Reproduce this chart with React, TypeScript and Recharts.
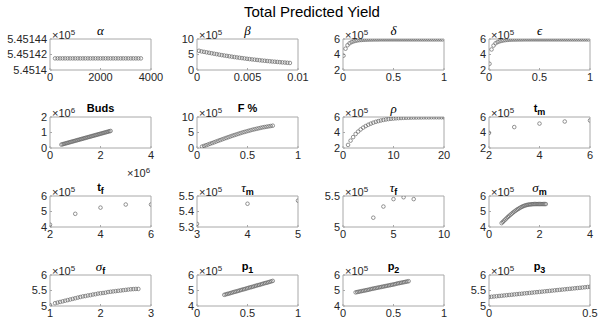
import React from "react";
import { ScatterChart, Scatter, XAxis, YAxis, ReferenceArea } from "recharts";

// values in units shown on the axes (×10^5 unless noted)
const alphaX = [200, 300, 400, 500, 600, 700, 800, 900, 1000, 1100, 1200, 1300, 1400, 1500, 1600, 1700, 1800, 1900, 2000, 2100, 2200, 2300, 2400, 2500, 2600, 2700, 2800, 2900, 3000, 3100, 3200, 3300, 3400, 3500, 3600];
const alphaY = [5.451415, 5.451415, 5.451415, 5.451415, 5.451415, 5.451415, 5.451415, 5.451415, 5.451415, 5.451415, 5.451415, 5.451415, 5.451415, 5.451415, 5.451415, 5.451415, 5.451415, 5.451415, 5.451415, 5.451415, 5.451415, 5.451415, 5.451415, 5.451415, 5.451415, 5.451415, 5.451415, 5.451415, 5.451415, 5.451415, 5.451415, 5.451415, 5.451415, 5.451415, 5.451415];

const betaX = [0.0002, 0.00045, 0.0007, 0.00095, 0.0012, 0.00145, 0.0017, 0.00195, 0.0022, 0.00245, 0.0027, 0.00295, 0.0032, 0.00345, 0.0037, 0.00395, 0.0042, 0.00445, 0.0047, 0.00495, 0.0052, 0.00545, 0.0057, 0.00595, 0.0062, 0.00645, 0.0067, 0.00695, 0.0072, 0.00745, 0.0077, 0.00795, 0.0082, 0.00845, 0.0087, 0.00895, 0.0092];
const betaY = [6.2, 6.0, 5.85, 5.7, 5.55, 5.4, 5.25, 5.1, 4.95, 4.8, 4.68, 4.55, 4.42, 4.3, 4.18, 4.06, 3.95, 3.84, 3.73, 3.62, 3.52, 3.42, 3.33, 3.24, 3.15, 3.06, 2.98, 2.9, 2.82, 2.74, 2.67, 2.6, 2.53, 2.46, 2.4, 2.33, 2.27];

const deltaX = [0.005, 0.025, 0.045, 0.065, 0.085, 0.105, 0.125, 0.145, 0.165, 0.185, 0.205, 0.225, 0.245, 0.265, 0.285, 0.305, 0.325, 0.345, 0.365, 0.385, 0.405, 0.425, 0.445, 0.465, 0.485, 0.505, 0.525, 0.545, 0.565, 0.585, 0.605, 0.625, 0.645, 0.665, 0.685, 0.705, 0.725, 0.745, 0.765, 0.785, 0.805, 0.825, 0.845, 0.865, 0.885, 0.905, 0.925, 0.945, 0.965, 0.985];
const deltaY = [3.85, 4.75, 5.2, 5.45, 5.6, 5.7, 5.77, 5.82, 5.86, 5.88, 5.9, 5.91, 5.92, 5.93, 5.93, 5.94, 5.94, 5.94, 5.95, 5.95, 5.95, 5.95, 5.95, 5.95, 5.95, 5.95, 5.95, 5.95, 5.95, 5.95, 5.95, 5.95, 5.95, 5.95, 5.95, 5.95, 5.95, 5.95, 5.95, 5.95, 5.95, 5.95, 5.95, 5.95, 5.95, 5.95, 5.95, 5.95, 5.95, 5.95];

const epsX = [0.005, 0.025, 0.045, 0.065, 0.085, 0.105, 0.125, 0.145, 0.165, 0.185, 0.205, 0.225, 0.245, 0.265, 0.285, 0.305, 0.325, 0.345, 0.365, 0.385, 0.405, 0.425, 0.445, 0.465, 0.485, 0.505, 0.525, 0.545, 0.565, 0.585, 0.605, 0.625, 0.645, 0.665, 0.685, 0.705, 0.725, 0.745, 0.765, 0.785, 0.805, 0.825, 0.845, 0.865, 0.885, 0.905, 0.925, 0.945, 0.965, 0.985];
const epsY = [2.8, 4.65, 5.15, 5.45, 5.6, 5.7, 5.77, 5.82, 5.86, 5.89, 5.91, 5.92, 5.93, 5.93, 5.94, 5.94, 5.94, 5.95, 5.95, 5.95, 5.95, 5.95, 5.95, 5.95, 5.95, 5.95, 5.95, 5.95, 5.95, 5.95, 5.95, 5.95, 5.95, 5.95, 5.95, 5.95, 5.95, 5.95, 5.95, 5.95, 5.95, 5.95, 5.95, 5.95, 5.95, 5.95, 5.95, 5.95, 5.95, 5.95];

// Buds: both axes ×10^6
const budsX = [0.45, 0.5, 0.55, 0.6, 0.65, 0.7, 0.75, 0.8, 0.85, 0.9, 0.95, 1.0, 1.05, 1.1, 1.15, 1.2, 1.25, 1.3, 1.35, 1.4, 1.45, 1.5, 1.55, 1.6, 1.65, 1.7, 1.75, 1.8, 1.85, 1.9, 1.95, 2.0, 2.05, 2.1, 2.15, 2.2, 2.25, 2.3, 2.35, 2.4];
const budsY = [0.22, 0.243, 0.265, 0.288, 0.31, 0.333, 0.355, 0.378, 0.401, 0.423, 0.446, 0.468, 0.491, 0.514, 0.536, 0.559, 0.581, 0.604, 0.627, 0.649, 0.672, 0.694, 0.717, 0.739, 0.762, 0.785, 0.807, 0.83, 0.852, 0.875, 0.897, 0.92, 0.943, 0.965, 0.988, 1.01, 1.033, 1.055, 1.078, 1.1];

const fPctX = [0.05, 0.07, 0.09, 0.11, 0.13, 0.15, 0.17, 0.19, 0.21, 0.23, 0.25, 0.27, 0.29, 0.31, 0.33, 0.35, 0.37, 0.39, 0.41, 0.43, 0.45, 0.47, 0.49, 0.51, 0.53, 0.55, 0.57, 0.59, 0.61, 0.63, 0.65, 0.67, 0.69, 0.71, 0.73, 0.75];
const fPctY = [0.45, 0.68, 0.9, 1.13, 1.37, 1.6, 1.84, 2.08, 2.32, 2.56, 2.8, 3.03, 3.26, 3.49, 3.72, 3.95, 4.16, 4.37, 4.58, 4.79, 5.0, 5.18, 5.36, 5.54, 5.72, 5.9, 6.05, 6.2, 6.35, 6.5, 6.65, 6.76, 6.87, 6.98, 7.09, 7.2];

const rhoX = [1, 1.5, 2, 2.5, 3, 3.5, 4, 4.5, 5, 5.5, 6, 6.5, 7, 7.5, 8, 8.5, 9, 9.5, 10, 10.5, 11, 11.5, 12, 12.5, 13, 13.5, 14, 14.5, 15, 15.5, 16, 16.5, 17, 17.5, 18, 18.5, 19, 19.5, 20];
const rhoY = [2.4, 2.95, 3.4, 3.8, 4.12, 4.4, 4.63, 4.83, 5.0, 5.14, 5.27, 5.38, 5.47, 5.55, 5.62, 5.68, 5.73, 5.77, 5.8, 5.83, 5.85, 5.87, 5.89, 5.9, 5.91, 5.92, 5.93, 5.93, 5.94, 5.94, 5.95, 5.95, 5.95, 5.96, 5.96, 5.96, 5.96, 5.96, 5.96];

const tmX = [2, 3, 4, 5, 6];
const tmY = [3.95, 4.7, 5.15, 5.42, 5.55];

const tfX = [2, 3, 4, 5, 6];
const tfY = [4.15, 4.85, 5.25, 5.45, 5.45];

const tauMX = [3, 4, 5];
const tauMY = [5.32, 5.45, 5.47];

const tauFX = [3, 4, 5, 6, 7];
const tauFY = [5.15, 5.33, 5.45, 5.48, 5.45];

const sigMX = [0.5, 0.55, 0.6, 0.65, 0.7, 0.75, 0.8, 0.85, 0.9, 0.95, 1.0, 1.05, 1.1, 1.15, 1.2, 1.25, 1.3, 1.35, 1.4, 1.45, 1.5, 1.55, 1.6, 1.65, 1.7, 1.75, 1.8, 1.85, 1.9, 1.95, 2.0, 2.05, 2.1, 2.15, 2.2, 2.25];
const sigMY = [4.25, 4.33, 4.41, 4.49, 4.57, 4.65, 4.72, 4.79, 4.86, 4.93, 4.99, 5.05, 5.11, 5.16, 5.21, 5.26, 5.3, 5.34, 5.37, 5.4, 5.42, 5.44, 5.45, 5.46, 5.47, 5.475, 5.48, 5.48, 5.48, 5.48, 5.48, 5.48, 5.48, 5.48, 5.48, 5.48];

const sigFX = [1.0, 1.1, 1.15, 1.2, 1.25, 1.3, 1.35, 1.4, 1.45, 1.5, 1.55, 1.6, 1.65, 1.7, 1.75, 1.8, 1.85, 1.9, 1.95, 2.0, 2.05, 2.1, 2.15, 2.2, 2.25, 2.3, 2.35, 2.4, 2.45, 2.5, 2.55, 2.6, 2.65, 2.7, 2.75];
const sigFY = [5.03, 5.09, 5.11, 5.13, 5.15, 5.17, 5.19, 5.21, 5.23, 5.25, 5.27, 5.29, 5.31, 5.32, 5.34, 5.35, 5.37, 5.38, 5.4, 5.41, 5.42, 5.43, 5.45, 5.46, 5.47, 5.48, 5.49, 5.5, 5.51, 5.52, 5.53, 5.54, 5.545, 5.55, 5.55];

const p1X = [0.27, 0.285, 0.3, 0.315, 0.33, 0.345, 0.36, 0.375, 0.39, 0.405, 0.42, 0.435, 0.45, 0.465, 0.48, 0.495, 0.51, 0.525, 0.54, 0.555, 0.57, 0.585, 0.6, 0.615, 0.63, 0.645, 0.66, 0.675, 0.69, 0.705, 0.72, 0.735, 0.75];
const p1Y = [4.72, 4.75, 4.78, 4.8, 4.83, 4.86, 4.89, 4.92, 4.94, 4.97, 5.0, 5.03, 5.06, 5.08, 5.11, 5.14, 5.17, 5.2, 5.22, 5.25, 5.28, 5.31, 5.34, 5.36, 5.39, 5.42, 5.45, 5.48, 5.5, 5.53, 5.56, 5.59, 5.62];

const p2X = [0.125, 0.14, 0.155, 0.17, 0.185, 0.2, 0.215, 0.23, 0.245, 0.26, 0.275, 0.29, 0.305, 0.32, 0.335, 0.35, 0.365, 0.38, 0.395, 0.41, 0.425, 0.44, 0.455, 0.47, 0.485, 0.5, 0.515, 0.53, 0.545, 0.56, 0.575, 0.59, 0.605, 0.62, 0.635, 0.65];
const p2Y = [4.88, 4.9, 4.92, 4.94, 4.96, 4.98, 5.0, 5.02, 5.04, 5.06, 5.09, 5.11, 5.13, 5.15, 5.17, 5.19, 5.21, 5.23, 5.25, 5.27, 5.29, 5.31, 5.33, 5.35, 5.37, 5.39, 5.41, 5.44, 5.46, 5.48, 5.5, 5.52, 5.54, 5.56, 5.58, 5.6];

const p3X = [0, 0.0125, 0.025, 0.0375, 0.05, 0.0625, 0.075, 0.0875, 0.1, 0.1125, 0.125, 0.1375, 0.15, 0.1625, 0.175, 0.1875, 0.2, 0.2125, 0.225, 0.2375, 0.25, 0.2625, 0.275, 0.2875, 0.3, 0.3125, 0.325, 0.3375, 0.35, 0.3625, 0.375, 0.3875, 0.4, 0.4125, 0.425, 0.4375, 0.45, 0.4625, 0.475, 0.4875, 0.5];
const p3Y = [5.29, 5.298, 5.307, 5.315, 5.323, 5.331, 5.34, 5.348, 5.356, 5.364, 5.373, 5.381, 5.389, 5.397, 5.406, 5.414, 5.422, 5.43, 5.439, 5.447, 5.455, 5.463, 5.472, 5.48, 5.488, 5.496, 5.505, 5.513, 5.521, 5.529, 5.538, 5.546, 5.554, 5.562, 5.571, 5.579, 5.587, 5.595, 5.604, 5.612, 5.62];

const COL_LEFT = [50, 197, 343, 489];
const ROW_TOP = [39, 117, 196, 275];
const BOX_W = 101;
const BOX_H = 31;
const AXIS_W = 50;
const PAD_T = 9;
const PAD_R = 18;
const X_H = 18;
const BOX = "#a8a8a8";
const INK = "#262626";
const SANS = "'Liberation Sans', Arial, Helvetica, sans-serif";
const SERIF = "'Liberation Serif', 'DejaVu Serif', serif";

const greek = (ch: string, sub?: string) => (
  <span>
    <span style={{ fontFamily: SERIF, fontStyle: "italic", fontWeight: "normal", fontSize: 13 }}>{ch}</span>
    {sub && <sub style={{ fontWeight: "bold", fontSize: 9, verticalAlign: -3 }}>{sub}</sub>}
  </span>
);
const bold = (t: string, sub?: string) => (
  <span style={{ fontWeight: "bold" }}>
    {t}
    {sub && <sub style={{ fontSize: 9, verticalAlign: -3 }}>{sub}</sub>}
  </span>
);

type Panel = {
  xs: number[];
  ys: number[];
  xd: [number, number];
  yd: [number, number];
  xt: number[];
  yt: number[];
  title: React.ReactNode;
  yExp: string;
  xExp?: string;
};

const panels: Panel[] = [
  { xs: alphaX, ys: alphaY, xd: [0, 4000], yd: [5.4514, 5.45144], xt: [0, 2000, 4000], yt: [5.4514, 5.45142, 5.45144], title: greek("α"), yExp: "5" },
  { xs: betaX, ys: betaY, xd: [0, 0.01], yd: [0, 10], xt: [0, 0.005, 0.01], yt: [0, 5, 10], title: greek("β"), yExp: "5" },
  { xs: deltaX, ys: deltaY, xd: [0, 1], yd: [2, 6], xt: [0, 0.5, 1], yt: [2, 4, 6], title: greek("δ"), yExp: "5" },
  { xs: epsX, ys: epsY, xd: [0, 1], yd: [2, 6], xt: [0, 0.5, 1], yt: [2, 4, 6], title: greek("ϵ"), yExp: "5" },
  { xs: budsX, ys: budsY, xd: [0, 4], yd: [0, 2], xt: [0, 2, 4], yt: [0, 1, 2], title: bold("Buds"), yExp: "6", xExp: "6" },
  { xs: fPctX, ys: fPctY, xd: [0, 1], yd: [0, 10], xt: [0, 0.5, 1], yt: [0, 5, 10], title: bold("F %"), yExp: "5" },
  { xs: rhoX, ys: rhoY, xd: [0, 20], yd: [2, 6], xt: [0, 10, 20], yt: [2, 4, 6], title: greek("ρ"), yExp: "5" },
  { xs: tmX, ys: tmY, xd: [2, 6], yd: [2, 6], xt: [2, 4, 6], yt: [2, 4, 6], title: bold("t", "m"), yExp: "5" },
  { xs: tfX, ys: tfY, xd: [2, 6], yd: [4, 6], xt: [2, 4, 6], yt: [4, 5, 6], title: bold("t", "f"), yExp: "5" },
  { xs: tauMX, ys: tauMY, xd: [3, 5], yd: [5.3, 5.5], xt: [3, 4, 5], yt: [5.3, 5.4, 5.5], title: greek("τ", "m"), yExp: "5" },
  { xs: tauFX, ys: tauFY, xd: [0, 10], yd: [5, 5.5], xt: [0, 5, 10], yt: [5, 5.5], title: greek("τ", "f"), yExp: "5" },
  { xs: sigMX, ys: sigMY, xd: [0, 4], yd: [4, 6], xt: [0, 2, 4], yt: [4, 5, 6], title: greek("σ", "m"), yExp: "5" },
  { xs: sigFX, ys: sigFY, xd: [1, 3], yd: [5, 6], xt: [1, 2, 3], yt: [5, 5.5, 6], title: greek("σ", "f"), yExp: "5" },
  { xs: p1X, ys: p1Y, xd: [0, 1], yd: [4, 6], xt: [0, 0.5, 1], yt: [4, 5, 6], title: bold("p", "1"), yExp: "5" },
  { xs: p2X, ys: p2Y, xd: [0, 1], yd: [4, 6], xt: [0, 0.5, 1], yt: [4, 5, 6], title: bold("p", "2"), yExp: "5" },
  { xs: p3X, ys: p3Y, xd: [0, 0.5], yd: [5, 6], xt: [0, 0.5], yt: [5, 5.5, 6], title: bold("p", "3"), yExp: "5" },
];

const fmt = (v: number) => String(Number(v.toFixed(6)));

const Ring = (props: any) => (
  <circle cx={props.cx} cy={props.cy} r={1.8} fill="none" stroke="#666" strokeWidth={0.7} />
);

const Exp = ({ n }: { n: string }) => (
  <span>
    ×10<sup style={{ fontSize: 8, verticalAlign: 4 }}>{n}</sup>
  </span>
);

function SmallPlot({ p, left, top }: { p: Panel; left: number; top: number }) {
  const data = p.xs.map((x, i) => ({ x, y: p.ys[i] }));
  const tick = { fontSize: 11, fill: INK };
  return (
    <>
      <div style={{ position: "absolute", left: left - AXIS_W, top: top - PAD_T }}>
        <ScatterChart
          width={AXIS_W + BOX_W + PAD_R}
          height={PAD_T + BOX_H + X_H}
          margin={{ top: PAD_T, right: PAD_R, bottom: 0, left: 0 }}
        >
          <XAxis
            type="number"
            dataKey="x"
            domain={p.xd}
            ticks={p.xt}
            interval={0}
            height={X_H}
            axisLine={false}
            tickLine={{ stroke: BOX }}
            tickSize={-2}
            tickMargin={5}
            tick={tick}
            tickFormatter={fmt}
            allowDataOverflow
          />
          <YAxis
            type="number"
            dataKey="y"
            domain={p.yd}
            ticks={p.yt}
            interval={0}
            width={AXIS_W}
            axisLine={false}
            tickLine={{ stroke: BOX }}
            tickSize={-2}
            tickMargin={5}
            tick={tick}
            tickFormatter={fmt}
            allowDataOverflow
          />
          <ReferenceArea x1={p.xd[0]} x2={p.xd[1]} y1={p.yd[0]} y2={p.yd[1]} fill="none" stroke={BOX} strokeWidth={1} />
          <Scatter data={data} shape={Ring} isAnimationActive={false} />
        </ScatterChart>
      </div>
      <div
        style={{
          position: "absolute",
          left,
          top: top - 15,
          width: BOX_W,
          height: 13,
          lineHeight: "13px",
          textAlign: "center",
          fontSize: 11,
          color: "#000",
          whiteSpace: "nowrap",
        }}
      >
        {p.title}
      </div>
      <div style={{ position: "absolute", left: left + 2, top: top - 11, fontSize: 11, lineHeight: "10px", color: INK }}>
        <Exp n={p.yExp} />
      </div>
      {p.xExp && (
        <div style={{ position: "absolute", left: left + 77, top: top + BOX_H + 18, fontSize: 11, lineHeight: "10px", color: INK }}>
          <Exp n={p.xExp} />
        </div>
      )}
    </>
  );
}

export default function App() {
  return (
    <div
      style={{
        position: "absolute",
        left: 0,
        top: 0,
        width: 598,
        height: 326,
        background: "#fff",
        fontFamily: SANS,
        overflow: "hidden",
      }}
    >
      <div style={{ position: "absolute", left: 0, width: 624, top: 3, textAlign: "center", fontSize: 15, color: "#000" }}>
        Total Predicted Yield
      </div>
      {panels.map((p, i) => (
        <SmallPlot key={i} p={p} left={COL_LEFT[i % 4]} top={ROW_TOP[Math.floor(i / 4)]} />
      ))}
    </div>
  );
}
